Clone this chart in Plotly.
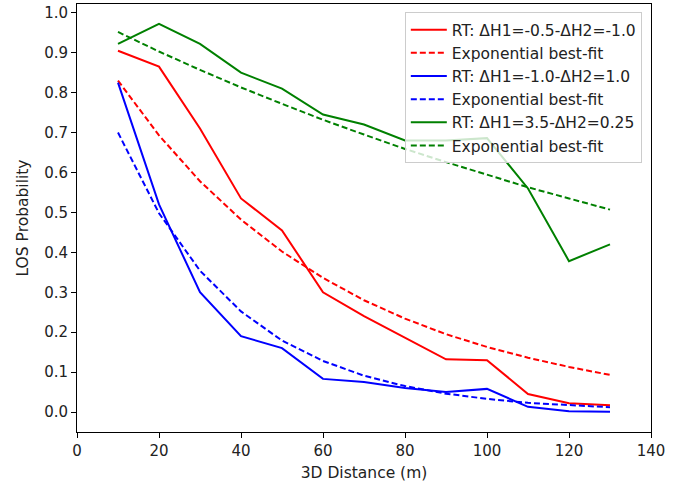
import plotly.graph_objects as go

distance = [10, 20, 30, 40, 50, 60, 70, 80, 90, 100, 110, 120, 130]

rt_red = [0.905, 0.865, 0.71, 0.535, 0.455, 0.30, 0.24, 0.185, 0.132, 0.13, 0.045, 0.022, 0.017]
fit_red = [0.83, 0.693, 0.578, 0.482, 0.402, 0.336, 0.280, 0.234, 0.195, 0.163, 0.136, 0.113, 0.093]

rt_blue = [0.825, 0.52, 0.30, 0.19, 0.16, 0.083, 0.075, 0.06, 0.05, 0.058, 0.013, 0.002, 0.001]
fit_blue = [0.70, 0.498, 0.354, 0.252, 0.179, 0.128, 0.091, 0.065, 0.046, 0.033, 0.023, 0.017, 0.012]

rt_green = [0.922, 0.972, 0.922, 0.85, 0.81, 0.745, 0.72, 0.68, 0.68, 0.686, 0.56, 0.378, 0.42]
fit_green = [0.952, 0.903, 0.857, 0.813, 0.772, 0.732, 0.695, 0.659, 0.626, 0.594, 0.563, 0.535, 0.507]

series = [
    ("RT: ΔH1=-0.5-ΔH2=-1.0", rt_red, fit_red, "#ff0000"),
    ("RT: ΔH1=-1.0-ΔH2=1.0", rt_blue, fit_blue, "#0000ff"),
    ("RT: ΔH1=3.5-ΔH2=0.25", rt_green, fit_green, "#008000"),
]

fig = go.Figure()
for name, rt, fit, color in series:
    fig.add_trace(go.Scatter(x=distance, y=rt, mode="lines", name=name,
                             line=dict(color=color, width=2)))
    fig.add_trace(go.Scatter(x=distance, y=fit, mode="lines", name="Exponential best-fit",
                             line=dict(color=color, width=2, dash="6px,3px")))

axis_common = dict(showline=True, linecolor="black", linewidth=1, mirror=True,
                   ticks="outside", ticklen=5, tickcolor="black", showgrid=False,
                   zeroline=False, tickfont=dict(family="DejaVu Sans", size=15, color="#222"))

fig.update_layout(
    width=695, height=486,
    margin=dict(l=77, r=44, t=4, b=54),
    plot_bgcolor="white", paper_bgcolor="white",
    font=dict(family="DejaVu Sans", size=15, color="#222"),
    xaxis=dict(range=[0, 140], tickvals=[0, 20, 40, 60, 80, 100, 120, 140],
               title=dict(text="3D Distance (m)", standoff=8, font=dict(size=15.5)), **axis_common),
    yaxis=dict(range=[-0.05, 1.022], tickvals=[i / 10 for i in range(11)], tickformat=".1f",
               title=dict(text="LOS Probability", standoff=11, font=dict(size=15.5)), **axis_common),
    legend=dict(x=0.984, y=0.981, xanchor="right", yanchor="top",
                bgcolor="rgba(255,255,255,0.8)", bordercolor="#cccccc", borderwidth=1,
                font=dict(size=15.5, color="#222"), tracegroupgap=0, itemwidth=36),
    showlegend=True,
)

fig.write_html("out.html")
